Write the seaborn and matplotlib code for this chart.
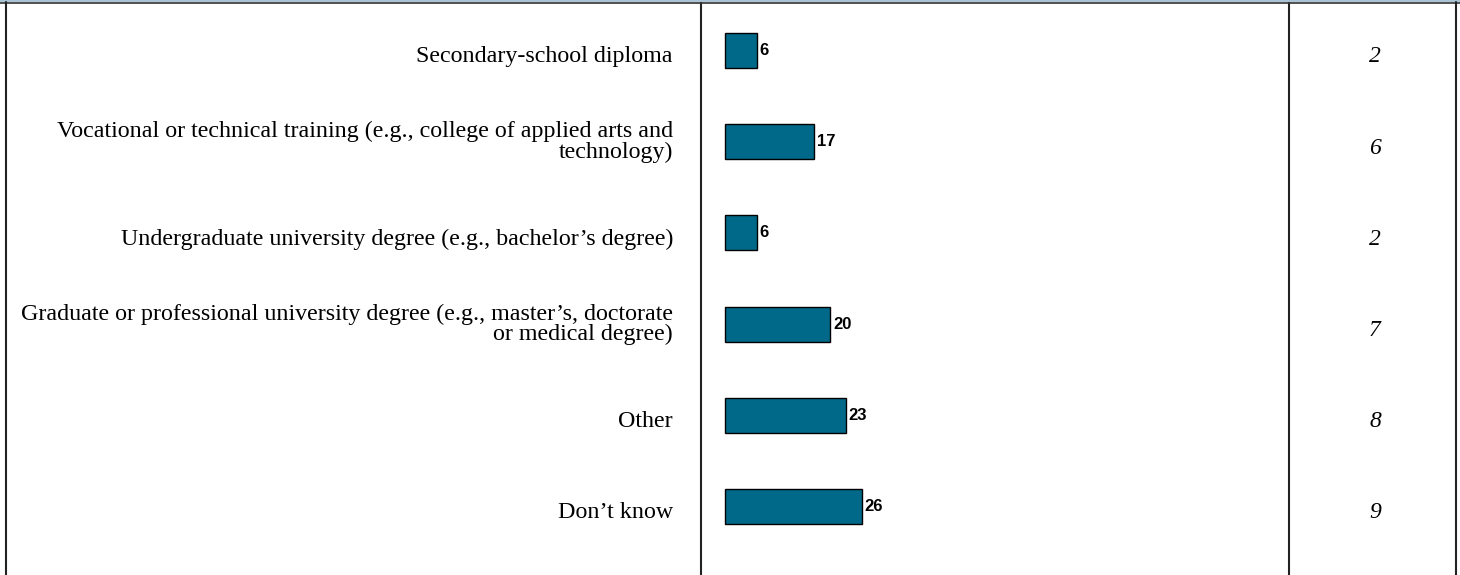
import matplotlib
matplotlib.use("Agg")
import matplotlib.pyplot as plt
from matplotlib.lines import Line2D
from matplotlib.transforms import blended_transform_factory
import seaborn as sns

categories = [
    "Secondary-school diploma",
    "Vocational or technical training (e.g., college of applied arts and\ntechnology)",
    "Undergraduate university degree (e.g., bachelor\u2019s degree)",
    "Graduate or professional university degree (e.g., master\u2019s, doctorate\nor medical degree)",
    "Other",
    "Don\u2019t know",
]
percent = [6, 17, 6, 20, 23, 26]
counts = [2, 6, 2, 7, 8, 9]

BAR_COLOR = "#00698A"
W, H = 1460, 575

sns.set_theme(style="white")
plt.rcParams["font.family"] = ["Liberation Serif", "DejaVu Serif"]
plt.rcParams["text.color"] = "black"

fig = plt.figure(figsize=(W / 100, H / 100), dpi=100)
ax = fig.add_axes([701 / W, 0, (1289 - 701) / W, 1])

sns.barplot(x=percent, y=categories, orient="h", color=BAR_COLOR,
            edgecolor="black", linewidth=1, width=0.384, saturation=1, ax=ax)

ax.set_xlim(-4.56, 107.2)
ax.set_ylim(5.751, -0.554)
ax.set_xticks([])
ax.set_xlabel("")
ax.set_ylabel("")
ax.set_yticks(range(len(categories)), [""] * len(categories))
ax.tick_params(axis="y", length=0)

for side in ["top", "bottom"]:
    ax.spines[side].set_visible(False)
for side in ["left", "right"]:
    ax.spines[side].set_color("#222222")
    ax.spines[side].set_linewidth(1.5)

# row labels, right-aligned left of the bar column
label_trans = blended_transform_factory(fig.transFigure, ax.transData)
for i, lab in enumerate(categories):
    dy = 0.0 if "\n" in lab else 0.07
    ax.text(673 / W, i + dy, lab, transform=label_trans, ha="right", va="center",
            multialignment="right", fontsize=17.3, linespacing=0.95, color="black")

ax.bar_label(ax.containers[0], padding=2, fontsize=12, fontweight="bold",
             color="black", family=["Liberation Sans", "DejaVu Sans"])

for i, n in enumerate(counts):
    ax.text(1375 / W, i + 0.07, str(n), transform=label_trans, ha="center", va="center",
            fontsize=17, fontstyle="italic", color="black")

# outer frame
fig.add_artist(Line2D([0, 1], [1 - 0.5 / H, 1 - 0.5 / H], transform=fig.transFigure,
                      color="#A8C3D3", linewidth=1.5))
fig.add_artist(Line2D([0, 1], [1 - 2.5 / H, 1 - 2.5 / H], transform=fig.transFigure,
                      color="#333333", linewidth=1.2))
for x in [5.5, 1455.5]:
    fig.add_artist(Line2D([x / W, x / W], [0, 1 - 2 / H], transform=fig.transFigure,
                          color="#222222", linewidth=1.5))

fig.savefig("out.png", dpi=100)
